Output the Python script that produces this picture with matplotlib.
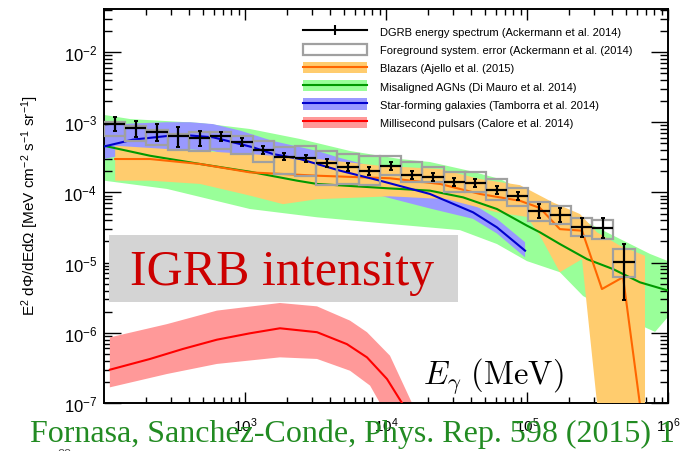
import numpy as np
import matplotlib
matplotlib.use("Agg")
import matplotlib.pyplot as plt
from matplotlib.patches import Patch, Rectangle
from matplotlib.lines import Line2D
from matplotlib.ticker import FixedLocator, LogLocator, NullFormatter

plt.rcParams['font.family'] = ['Liberation Sans', 'DejaVu Sans']
plt.rcParams['mathtext.fontset'] = 'custom'
plt.rcParams['mathtext.rm'] = 'Liberation Sans'
plt.rcParams['mathtext.it'] = 'Liberation Sans:italic'
plt.rcParams['mathtext.bf'] = 'Liberation Sans:bold'

# DGRB data (Ackermann et al. 2014), energies in MeV
e_lo = [100, 141.4, 200, 282.8, 400, 565.6, 800, 1131, 1600, 2263, 3201, 4526, 6401,
        9054, 12805, 18108, 25610, 36220, 51220, 72440, 102400, 144800, 204800, 289700, 409700]
e_hi = [141.4, 200, 282.8, 400, 565.6, 800, 1131, 1600, 2263, 3201, 4526, 6401, 9054,
        12805, 18108, 25610, 36220, 51220, 72440, 102400, 144800, 204800, 289700, 409700, 579400]
e_c = [118.9, 168.2, 237.8, 336.4, 475.7, 672.7, 951.4, 1345, 1903, 2691, 3806, 5382, 7612,
       10770, 15230, 21530, 30450, 43070, 60910, 86140, 121800, 172300, 243600, 344500, 487300]
flux = [9.4e-4, 8.3e-4, 7.2e-4, 6.4e-4, 6.0e-4, 6.3e-4, 5.3e-4, 4.06e-4, 3.23e-4, 3.06e-4,
        2.6e-4, 2.28e-4, 2.04e-4, 2.38e-4, 1.79e-4, 1.64e-4, 1.39e-4, 1.35e-4, 1.09e-4, 8.97e-5,
        5.38e-5, 4.81e-5, 3.18e-5, 3.11e-5, 1.03e-5]
err_lo = [7.6e-4, 6.1e-4, 5.45e-4, 4.4e-4, 4.6e-4, 5.45e-4, 4.6e-4, 3.55e-4, 2.9e-4, 2.73e-4,
          2.28e-4, 2.0e-4, 1.79e-4, 2.09e-4, 1.57e-4, 1.44e-4, 1.22e-4, 1.18e-4, 9.6e-5, 7.9e-5,
          4.27e-5, 3.82e-5, 2.32e-5, 2.27e-5, 2.96e-6]
err_hi = [1.17e-3, 1.05e-3, 9.4e-4, 8.45e-4, 7.4e-4, 7.2e-4, 6.0e-4, 4.62e-4, 3.64e-4, 3.41e-4,
          2.96e-4, 2.6e-4, 2.33e-4, 2.71e-4, 2.04e-4, 1.87e-4, 1.58e-4, 1.54e-4, 1.24e-4, 1.02e-4,
          6.8e-5, 6.06e-5, 4.36e-5, 4.26e-5, 1.84e-5]
sys_lo = [6.4e-4, 5.45e-4, 4.73e-4, 4.06e-4, 3.93e-4, 4.18e-4, 3.52e-4, 2.73e-4, 1.83e-4, 1.73e-4,
          1.27e-4, 1.32e-4, 1.27e-4, 1.77e-4, 1.39e-4, 1.39e-4, 1.0e-4, 1.0e-4, 7.9e-5, 6.5e-5,
          3.95e-5, 3.55e-5, 2.42e-5, 2.17e-5, 6.2e-6]
sys_hi = [1.0e-3, 8.75e-4, 7.8e-4, 6.8e-4, 7.2e-4, 7.2e-4, 6.4e-4, 5.45e-4, 4.4e-4, 4.6e-4,
          3.93e-4, 3.52e-4, 3.27e-4, 3.33e-4, 2.69e-4, 2.28e-4, 1.97e-4, 1.97e-4, 1.55e-4, 1.14e-4,
          7.4e-5, 6.34e-5, 4.28e-5, 4.08e-5, 1.56e-5]

# misaligned AGNs
agn_up_e = [100, 153, 480, 1084, 2455, 5560, 12570, 20500, 39400, 64400, 105000, 171000, 280000, 457000, 745000, 1e6]
agn_up = [1.27e-3, 1.11e-3, 9.75e-4, 8.0e-4, 5.77e-4, 3.89e-4, 2.99e-4, 2.71e-4, 2.02e-4, 1.55e-4, 9.5e-5, 5.8e-5, 3.55e-5, 2.17e-5, 1.33e-5, 1.05e-5]
agn_lo_e = [100, 280, 1084, 3243, 10670, 33500, 61200, 100000, 171000, 250000, 457000, 810000, 1e6]
agn_lo = [1.47e-4, 1.12e-4, 5.8e-5, 4.42e-5, 3.55e-5, 2.9e-5, 1.84e-5, 1.05e-5, 7.3e-6, 3.34e-6, 1.73e-6, 1.03e-6, 1.68e-6]
agn_e = [100, 212, 480, 1084, 2340, 3243, 10670, 20500, 35200, 61200, 100000, 123600, 171000, 266700, 407000, 632000, 1e6]
agn = [4.62e-4, 3.33e-4, 2.54e-4, 1.97e-4, 1.47e-4, 1.32e-4, 1.14e-4, 1.06e-4, 8.5e-5, 5.8e-5, 3.36e-5, 2.7e-5, 1.84e-5, 1.12e-5, 8.1e-6, 5.24e-6, 4.0e-6]

# star-forming galaxies
sfg_e = [100, 160, 280, 407, 593, 922, 1140, 1581, 2455, 3243, 4720, 9060, 20500, 41400, 61200, 96900]
sfg = [4.51e-4, 5.64e-4, 6.36e-4, 6.47e-4, 6.1e-4, 4.89e-4, 4.39e-4, 3.52e-4, 2.99e-4, 2.54e-4, 2.04e-4, 1.47e-4, 9.5e-5, 5.21e-5, 3.18e-5, 1.48e-5]
sfg_band_e = [100, 160, 280, 407, 593, 922, 1581, 3243, 4720, 9060, 20500, 41400, 61200, 96900]
sfg_up = [9.0e-4, 9.6e-4, 1.0e-3, 1.0e-3, 9.4e-4, 7.6e-4, 5.4e-4, 3.9e-4, 3.1e-4, 2.2e-4, 1.35e-4, 6.8e-5, 4.2e-5, 1.95e-5]
sfg_lo = [3.0e-4, 3.6e-4, 4.0e-4, 4.1e-4, 3.9e-4, 3.1e-4, 2.2e-4, 1.6e-4, 1.3e-4, 9.0e-5, 5.9e-5, 4.2e-5, 2.6e-5, 1.19e-5]

# blazars
blz_up_e = [120, 280, 1084, 3243, 9060, 24200, 46400, 89100, 152700, 237500, 313600, 457000, 687000]
blz_up = [4.62e-4, 4.15e-4, 3.52e-4, 2.99e-4, 2.4e-4, 2.15e-4, 1.55e-4, 1.27e-4, 7.2e-5, 4.92e-5, 2.7e-5, 1.74e-5, 1.25e-5]
blz_lo_e = [120, 212, 480, 1084, 1862, 3243, 10670, 27100, 61200, 100000, 123600, 171000, 245500, 313600, 687000]
blz_lo = [1.47e-4, 1.47e-4, 1.32e-4, 9.0e-5, 6.8e-5, 8.0e-5, 8.8e-5, 8.0e-5, 5.2e-5, 4.47e-5, 2.42e-5, 7.3e-6, 1.12e-5, 1e-7, 1e-7]
blz_e = [120, 212, 480, 1084, 3243, 10670, 24200, 46400, 89100, 123600, 171000, 245500, 340000, 480000, 660000]
blz = [2.99e-4, 2.99e-4, 2.54e-4, 1.93e-4, 1.73e-4, 1.59e-4, 1.32e-4, 9.5e-5, 7.6e-5, 6.0e-5, 3.0e-5, 2.85e-5, 4.2e-6, 6.2e-6, 5e-8]

# millisecond pulsars
msp_e = [110, 212, 363, 632, 1084, 1770, 3243, 5280, 7330, 10160, 12980, 16070]
msp = [2.98e-7, 4.24e-7, 5.89e-7, 7.98e-7, 9.84e-7, 1.16e-6, 1.02e-6, 6.9e-7, 4.47e-7, 2.2e-7, 1.0e-7, 5e-8]
msp_up_e = [110, 280, 632, 1770, 3243, 5560, 7330, 10670, 15280]
msp_up = [8.6e-7, 1.33e-6, 2.07e-6, 2.66e-6, 2.38e-6, 1.49e-6, 1.02e-6, 4.72e-7, 1e-7]
msp_lo_e = [110, 280, 632, 1770, 3243, 5560, 7710, 9060]
msp_lo = [1.67e-7, 2.59e-7, 3.6e-7, 4.47e-7, 4.24e-7, 2.88e-7, 1.77e-7, 1e-7]

labels = ["DGRB energy spectrum (Ackermann et al. 2014)",
          "Foreground system. error (Ackermann et al. (2014)",
          "Blazars (Ajello et al. (2015)",
          "Misaligned AGNs (Di Mauro et al. 2014)",
          "Star-forming galaxies (Tamborra et al. 2014)",
          "Millisecond pulsars (Calore et al. 2014)"]

c_green_band, c_green = '#99ff99', '#009900'
c_orange_band, c_orange = '#ffcc6e', '#ff6600'
c_blue_band, c_blue = '#9999ff', '#0000cc'
c_red_band, c_red = '#ff9999', '#ff0000'
c_box = '#a0a0a0'


def band(ax, xu, yu, xl, yl, color, z):
    xs = np.concatenate([xu, xl[::-1]])
    ys = np.concatenate([yu, yl[::-1]])
    ax.fill(xs, ys, color=color, lw=0, zorder=z)


fig = plt.figure(figsize=(6.81, 4.52), dpi=100)
ax = fig.add_axes([104 / 681, 1 - 404 / 452, 564 / 681, 394 / 452])
ax.set_xscale('log')
ax.set_yscale('log')

band(ax, agn_up_e, agn_up, agn_lo_e, agn_lo, c_green_band, 1)
band(ax, sfg_band_e, sfg_up, sfg_band_e, sfg_lo, c_blue_band, 2)
band(ax, blz_up_e, blz_up, blz_lo_e, blz_lo, c_orange_band, 3)
band(ax, msp_up_e, msp_up, msp_lo_e, msp_lo, c_red_band, 2)

ax.plot(agn_e, agn, color=c_green, lw=1.5, zorder=5)
ax.plot(blz_e, blz, color=c_orange, lw=1.5, zorder=5)
ax.plot(sfg_e, sfg, color=c_blue, lw=1.5, zorder=5)
ax.plot(msp_e, msp, color=c_red, lw=1.5, zorder=5)

e_lo_a, e_hi_a, e_c_a = np.array(e_lo), np.array(e_hi), np.array(e_c)
flux_a = np.array(flux)
ax.bar(e_lo_a, np.array(sys_hi) - np.array(sys_lo), width=e_hi_a - e_lo_a, bottom=sys_lo,
       align='edge', fill=False, edgecolor=c_box, lw=1.6, zorder=6)
ax.errorbar(e_c_a, flux_a, xerr=[e_c_a - e_lo_a, e_hi_a - e_c_a], fmt='none',
            ecolor='k', elinewidth=1.6, capsize=0, zorder=7)
ax.errorbar(e_c_a, flux_a, yerr=[flux_a - np.array(err_lo), np.array(err_hi) - flux_a],
            fmt='none', ecolor='k', elinewidth=1.6, capsize=1.5, capthick=1.4, zorder=7)

ax.set_xlim(100, 1e6)
ax.set_ylim(1e-7, 0.041)
ax.xaxis.set_major_locator(FixedLocator([1e3, 1e4, 1e5, 1e6]))
ax.xaxis.set_minor_locator(LogLocator(base=10, subs=np.arange(2, 10), numticks=20))
ax.xaxis.set_minor_formatter(NullFormatter())
ax.yaxis.set_minor_locator(LogLocator(base=10, subs=np.arange(2, 10), numticks=20))
ax.yaxis.set_minor_formatter(NullFormatter())
ax.tick_params(which='both', direction='in', top=True, right=True, width=1)
ax.tick_params(axis='y', which='major', length=12, labelsize=12, pad=5)
ax.tick_params(axis='y', which='minor', length=6)
ax.tick_params(axis='x', which='major', length=8, labelsize=11, pad=9)
ax.tick_params(axis='x', which='minor', length=4.3)
for s in ax.spines.values():
    s.set_linewidth(1.4)

handles = [Line2D([], [], color='k', lw=1.5, marker='|', ms=7, mew=1.5),
           Patch(facecolor='white', edgecolor=c_box, lw=1.6),
           (Patch(facecolor=c_orange_band, lw=0), Line2D([], [], color=c_orange, lw=1.5)),
           (Patch(facecolor=c_green_band, lw=0), Line2D([], [], color=c_green, lw=1.5)),
           (Patch(facecolor=c_blue_band, lw=0), Line2D([], [], color=c_blue, lw=1.5)),
           (Patch(facecolor=c_red_band, lw=0), Line2D([], [], color=c_red, lw=1.5))]
ax.legend(handles, labels, loc='upper left', bbox_to_anchor=(303 / 681, 1 - 26.5 / 452),
          bbox_transform=fig.transFigure, frameon=False, fontsize=8.0, borderpad=0,
          borderaxespad=0, handlelength=5.75, handleheight=1.17, labelspacing=0.62,
          handletextpad=1.15)

fig.text(30 / 681, 1 - 206 / 452,
         r"E$^{2}$ d$\Phi$/dEd$\Omega$ [MeV cm$^{-2}$ s$^{-1}$ sr$^{-1}$]",
         rotation=90, ha='center', va='center', fontsize=11)

fig.patches.append(Rectangle((109 / 681, 1 - 303 / 452), 349 / 681, 67 / 452,
                             transform=fig.transFigure, facecolor='#d4d4d4', lw=0, zorder=10))
fig.text(130 / 681, 1 - 285 / 452, "IGRB intensity", color='#cc0000', fontsize=36,
         family='Liberation Serif', ha='left', va='baseline', zorder=11)
fig.text(423 / 681, 1 - 383 / 452, r"$E_\gamma\ \mathrm{(MeV)}$", fontsize=23.5,
         math_fontfamily='cm', ha='left', va='baseline', zorder=11)
fig.text(30 / 681, 1 - 442 / 452, "Fornasa, Sanchez-Conde, Phys. Rep. 598 (2015) 1",
         color='#228b22', fontsize=23, family='Liberation Serif', ha='left', va='baseline', zorder=11)
fig.text(57 / 681, 1 - 455 / 452, "22", color='#555555', fontsize=9, ha='left', va='center')

fig.savefig("out.png", dpi=100)
